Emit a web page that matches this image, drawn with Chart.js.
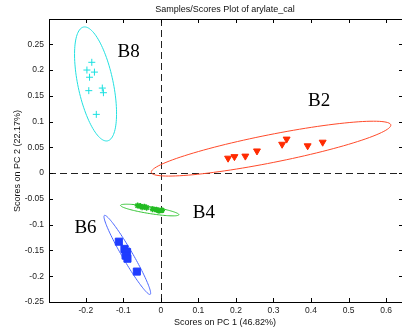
<!DOCTYPE html>
<html>
<head>
<meta charset="utf-8">
<script src="https://cdn.jsdelivr.net/npm/chart.js@4"></script>
<style>
  html, body { margin: 0; padding: 0; background: #fff; overflow: hidden; }
  #wrap { width: 410px; height: 332px; }
</style>
</head>
<body>
<div id="wrap"><canvas id="scores"></canvas></div>
<script>
// PCA scores, PC1 vs PC2, one group per sample class
const b8x = [-0.184, -0.197, -0.177, -0.190, -0.192, -0.156, -0.153, -0.172]
const b8y = [0.215, 0.200, 0.196, 0.186, 0.160, 0.165, 0.156, 0.114]

const b2x = [0.179, 0.196, 0.225, 0.256, 0.323, 0.335, 0.391, 0.431]
const b2y = [0.029, 0.032, 0.033, 0.043, 0.056, 0.066, 0.053, 0.060]

const b4x = [-0.062, -0.055, -0.050, -0.044, -0.038, -0.022, -0.012, -0.005, 0.003]
const b4y = [-0.063, -0.064, -0.066, -0.065, -0.067, -0.070, -0.071, -0.073, -0.072]

const b6x = [-0.112, -0.097, -0.090, -0.094, -0.089, -0.064]
const b6y = [-0.133, -0.147, -0.153, -0.160, -0.166, -0.191]

// confidence ellipses: centre, major semi-axis vector, minor semi-axis vector (data units)
const b8Ellipse = [-0.174, 0.173, -0.032, 0.1104, 0.0459, 0.0071]
const b2Ellipse = [0.2935, 0.0475, 0.319, 0.0461, 0.0072, -0.0266]
const b4Ellipse = [-0.0297, -0.0716, 0.0777, -0.0091, -0.0015, -0.0067]
const b6Ellipse = [-0.0894, -0.1586, 0.061, -0.0766, 0.012, 0.0051]

const groupNames = ['B8', 'B2', 'B4', 'B6']
const labelX = [-0.1156, 0.392, 0.085, -0.2304]
const labelY = [0.234, 0.139, -0.078, -0.107]

const xTicks = [-0.2, -0.1, 0, 0.1, 0.2, 0.3, 0.4, 0.5, 0.6]
const yTicks = [-0.25, -0.2, -0.15, -0.1, -0.05, 0, 0.05, 0.1, 0.15, 0.2, 0.25]

const toPoints = (xs, ys) => xs.map((x, i) => ({ x: x, y: ys[i] }))
const fmt = v => String(Math.round(v * 100) / 100)

const ellipses = [
  { e: b8Ellipse, color: '#22e0e0' },
  { e: b2Ellipse, color: '#ff4a2a' },
  { e: b4Ellipse, color: '#33c433' },
  { e: b6Ellipse, color: '#4a66ff' },
]

const overlay = {
  id: 'overlay',
  beforeDatasetsDraw(chart) {
    const { ctx, chartArea: a, scales: { x, y } } = chart
    ctx.save()
    ctx.beginPath()
    ctx.rect(a.left, a.top, a.right - a.left, a.bottom - a.top)
    ctx.clip()

    // zero lines
    ctx.strokeStyle = '#222'
    ctx.lineWidth = 1
    ctx.setLineDash([7, 4])
    ctx.beginPath()
    const x0 = Math.round(x.getPixelForValue(0)) + 0.5
    const y0 = Math.round(y.getPixelForValue(0)) + 0.5
    ctx.moveTo(x0, a.top); ctx.lineTo(x0, a.bottom)
    ctx.moveTo(a.left, y0); ctx.lineTo(a.right, y0)
    ctx.stroke()
    ctx.setLineDash([])

    ellipses.forEach(el => {
      const [cx, cy, ax, ay, bx, by] = el.e
      ctx.strokeStyle = el.color
      ctx.lineWidth = 1
      ctx.beginPath()
      for (let k = 0; k <= 120; k++) {
        const t = k / 120 * Math.PI * 2
        const px = x.getPixelForValue(cx + ax * Math.cos(t) + bx * Math.sin(t))
        const py = y.getPixelForValue(cy + ay * Math.cos(t) + by * Math.sin(t))
        if (k === 0) ctx.moveTo(px, py)
        else ctx.lineTo(px, py)
      }
      ctx.stroke()
    })
    ctx.restore()
  },
  afterDraw(chart) {
    const { ctx, chartArea: a, scales: { x, y } } = chart
    ctx.save()
    ctx.strokeStyle = '#000'
    ctx.lineWidth = 1
    ctx.strokeRect(a.left + 0.5, a.top + 0.5, a.right - a.left, a.bottom - a.top)

    // inward ticks on all four sides
    ctx.beginPath()
    xTicks.forEach(v => {
      const p = Math.round(x.getPixelForValue(v)) + 0.5
      ctx.moveTo(p, a.bottom); ctx.lineTo(p, a.bottom - 4)
      ctx.moveTo(p, a.top); ctx.lineTo(p, a.top + 4)
    })
    yTicks.forEach(v => {
      const p = Math.round(y.getPixelForValue(v)) + 0.5
      ctx.moveTo(a.left, p); ctx.lineTo(a.left + 4, p)
      ctx.moveTo(a.right, p); ctx.lineTo(a.right - 4, p)
    })
    ctx.stroke()

    // group labels
    ctx.fillStyle = '#000'
    ctx.font = '19px "Liberation Serif"'
    ctx.textAlign = 'left'
    ctx.textBaseline = 'middle'
    groupNames.forEach((n, i) => {
      ctx.fillText(n, x.getPixelForValue(labelX[i]), y.getPixelForValue(labelY[i]))
    })

    // titles
    ctx.fillStyle = '#111'
    ctx.font = '9px "Liberation Sans"'
    ctx.textAlign = 'center'
    ctx.fillText('Samples/Scores Plot of arylate_cal', 225, 10)
    ctx.fillText('Scores on PC 1 (46.82%)', 225, 323)
    ctx.translate(18, 161)
    ctx.rotate(-Math.PI / 2)
    ctx.fillText('Scores on PC 2 (22.17%)', 0, 0)
    ctx.restore()
  }
}

new Chart(document.getElementById('scores'), {
  type: 'scatter',
  data: {
    datasets: [
      { label: 'B8', data: toPoints(b8x, b8y), pointStyle: 'cross', pointRadius: 3.5,
        borderColor: '#19e0e0', backgroundColor: '#19e0e0', borderWidth: 1 },
      { label: 'B2', data: toPoints(b2x, b2y), pointStyle: 'triangle', pointRotation: 180, pointRadius: 4,
        borderColor: '#ff2a00', backgroundColor: '#ff2a00', borderWidth: 1 },
      { label: 'B4', data: toPoints(b4x, b4y), pointStyle: 'star', pointRadius: 3,
        borderColor: '#22bb22', backgroundColor: '#22bb22', borderWidth: 1.5 },
      { label: 'B6', data: toPoints(b6x, b6y), pointStyle: 'rect', pointRadius: 5,
        borderColor: '#1f3cff', backgroundColor: '#1f3cff', borderWidth: 1 },
    ]
  },
  options: {
    responsive: true,
    maintainAspectRatio: false,
    animation: false,
    layout: { padding: { left: 0, top: 19, right: 7, bottom: 0 } },
    plugins: { legend: { display: false }, tooltip: { enabled: false }, title: { display: false } },
    scales: {
      x: {
        type: 'linear', min: -0.298, max: 0.645,
        afterFit: s => { s.height = 30 },
        grid: { display: false, drawTicks: false },
        border: { display: false },
        ticks: { stepSize: 0.1, includeBounds: false, padding: 4, color: '#222', font: { family: 'Liberation Sans', size: 8.5 }, callback: fmt, maxRotation: 0 }
      },
      y: {
        type: 'linear', min: -0.25, max: 0.299,
        afterFit: s => { s.width = 49 },
        grid: { display: false, drawTicks: false },
        border: { display: false },
        ticks: { stepSize: 0.05, includeBounds: false, padding: 5, color: '#222', font: { family: 'Liberation Sans', size: 8.5 }, callback: fmt }
      }
    }
  },
  plugins: [overlay]
})
</script>
</body>
</html>
